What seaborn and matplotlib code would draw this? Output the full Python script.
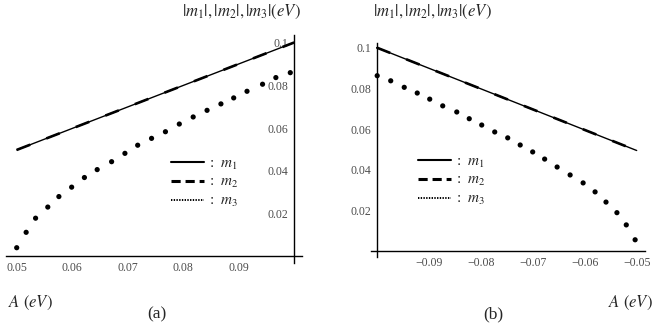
import matplotlib
matplotlib.use('Agg')
import matplotlib.pyplot as plt
import seaborn as sns
from matplotlib.lines import Line2D
from matplotlib.ticker import MultipleLocator

# panel (a): A > 0
A_a_line = [0.05, 0.1]
m1_a = [0.0498, 0.1]
m2_a = [0.0498, 0.1]
A_a_dots = [0.0500, 0.0517, 0.0534, 0.0556, 0.0576, 0.0599, 0.0622, 0.0645, 0.0671, 0.0695, 0.0718,
            0.0743, 0.0768, 0.0793, 0.0818, 0.0843, 0.0868, 0.0891, 0.0915, 0.0943, 0.0967, 0.0993]
m3_a = [0.0041, 0.0113, 0.0179, 0.0231, 0.0280, 0.0324, 0.0369, 0.0406, 0.0443, 0.0482, 0.0520,
        0.0552, 0.0583, 0.0619, 0.0652, 0.0683, 0.0713, 0.0741, 0.0772, 0.0805, 0.0836, 0.0859]

# panel (b): A < 0
A_b_line = [-0.1, -0.05]
m1_b = [0.1, 0.0495]
m2_b = [0.1, 0.0495]
A_b_dots = [-0.0999, -0.0973, -0.0947, -0.0922, -0.0898, -0.0873, -0.0846, -0.0822, -0.0798, -0.0773, -0.0748,
            -0.0724, -0.0700, -0.0677, -0.0653, -0.0628, -0.0603, -0.0580, -0.0559, -0.0538, -0.0520, -0.0503]
m3_b = [0.0862, 0.0837, 0.0805, 0.0777, 0.0747, 0.0714, 0.0684, 0.0651, 0.0620, 0.0586, 0.0557,
        0.0522, 0.0488, 0.0453, 0.0414, 0.0375, 0.0336, 0.0292, 0.0242, 0.0190, 0.0130, 0.0057]

xt_a = [0.05, 0.06, 0.07, 0.08, 0.09]
xt_a_lab = ['0.05', '0.06', '0.07', '0.08', '0.09']
xt_b = [-0.09, -0.08, -0.07, -0.06, -0.05]
xt_b_lab = ['\u22120.09', '\u22120.08', '\u22120.07', '\u22120.06', '\u22120.05']
yt = [0.02, 0.04, 0.06, 0.08, 0.1]
yt_lab = ['0.02', '0.04', '0.06', '0.08', '0.1']

sns.set_style('white')
plt.rcParams['font.family'] = ['Liberation Serif', 'DejaVu Serif']
plt.rcParams['mathtext.fontset'] = 'stix'

fig = plt.figure(figsize=(6.55, 3.28), dpi=100)
W, H = 655.0, 328.0


def make_axes(x0, x1, y0, y1):
    '''axes from pixel box (top-left origin)'''
    return fig.add_axes([x0 / W, (H - y1) / H, (x1 - x0) / W, (y1 - y0) / H])


def style_axes(ax, xpos, xt, xtl):
    # Mathematica style axes crossing at (xpos, 0)
    ax.spines['left'].set_position(('data', xpos))
    ax.spines['bottom'].set_position(('data', 0))
    ax.spines['right'].set_visible(False)
    ax.spines['top'].set_visible(False)
    for s in ['left', 'bottom']:
        ax.spines[s].set_linewidth(1.0)
        ax.spines[s].set_color('black')
    ax.set_xticks(xt)
    ax.set_xticklabels(xtl)
    ax.set_yticks(yt)
    ax.set_yticklabels(yt_lab)
    ax.xaxis.set_minor_locator(MultipleLocator(0.002))
    ax.yaxis.set_minor_locator(MultipleLocator(0.004))
    ax.tick_params(which='major', direction='in', length=4, width=0.8, color='black',
                   labelsize=8.5, labelcolor='#4d4d4d')
    ax.tick_params(which='minor', direction='in', length=2, width=0.6, color='black')
    ax.tick_params(axis='x', which='major', pad=4)
    ax.tick_params(axis='y', which='major', pad=4)
    ax.set_xlabel('')
    ax.set_ylabel('')
    ax.set_facecolor('none')


def draw(ax, A_line, m1, m2, A_dots, m3):
    sns.lineplot(x=A_line, y=m1, ax=ax, color='black', linewidth=1.0)
    sns.lineplot(x=A_line, y=m2, ax=ax, color='black', linewidth=1.9, dashes=False)
    ax.lines[-1].set_dashes((5.5, 6.5))
    sns.scatterplot(x=A_dots, y=m3, ax=ax, color='black', s=14, edgecolor='none')


legend_handles = [
    Line2D([], [], color='black', lw=1.5, ls='-'),
    Line2D([], [], color='black', lw=2.2, ls=(0, (3.0, 1.6))),
    Line2D([], [], color='black', lw=1.4, ls=(0, (0.7, 0.7))),
]
legend_labels = [r':  $m_1$', r':  $m_2$', r':  $m_3$']

# (a)
ax1 = make_axes(6, 302, 35, 263)
draw(ax1, A_a_line, m1_a, m2_a, A_a_dots, m3_a)
ax1.set_xlim(0.04807, 0.10141)
ax1.set_ylim(-0.00304, 0.1035)
style_axes(ax1, 0.1, xt_a, xt_a_lab)
ax1.legend(legend_handles, legend_labels, loc='center left', bbox_to_anchor=(163 / W, (H - 183) / H),
           bbox_transform=fig.transFigure, frameon=False, fontsize=11, handlelength=2.2,
           handletextpad=0.3, labelspacing=0.25, borderpad=0)

# (b)
ax2 = make_axes(370.7, 645, 43.3, 257)
draw(ax2, A_b_line, m1_b, m2_b, A_b_dots, m3_b)
ax2.set_xlim(-0.10115, -0.0484)
ax2.set_ylim(-0.00275, 0.1021)
style_axes(ax2, -0.1, xt_b, xt_b_lab)
ax2.legend(legend_handles, legend_labels, loc='center left', bbox_to_anchor=(410 / W, (H - 181) / H),
           bbox_transform=fig.transFigure, frameon=False, fontsize=11, handlelength=2.2,
           handletextpad=0.3, labelspacing=0.25, borderpad=0)

# axis titles and panel labels
ylab = r'$|m_1|,|m_2|,|m_3|\left(eV\right)$'
xlab = r'$A\ \left(eV\right)$'
fig.text(241 / W, 1 - 12 / H, ylab, ha='center', va='center', fontsize=12)
fig.text(432 / W, 1 - 12 / H, ylab, ha='center', va='center', fontsize=12)
fig.text(30 / W, 1 - 303 / H, xlab, ha='center', va='center', fontsize=12)
fig.text(630 / W, 1 - 303 / H, xlab, ha='center', va='center', fontsize=12)
fig.text(157 / W, 1 - 314 / H, '(a)', ha='center', va='center', fontsize=12.5)
fig.text(493 / W, 1 - 314 / H, '(b)', ha='center', va='center', fontsize=12.5)

fig.savefig('out.png', dpi=100)
